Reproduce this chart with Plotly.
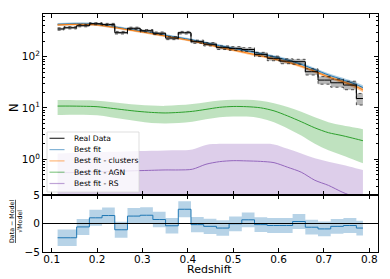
import plotly.graph_objects as go

# ---------------- data ----------------
z_bins = [0.113, 0.141, 0.169, 0.197, 0.225, 0.253, 0.281, 0.309, 0.337, 0.365,
          0.393, 0.421, 0.449, 0.477, 0.505, 0.533, 0.561, 0.589, 0.617, 0.645,
          0.673, 0.701, 0.729, 0.757, 0.786]
n_data = [347, 367, 402, 440, 425, 294, 357, 321, 286, 230,
          294, 196, 175, 150, 145, 138, 111, 93, 82, 80,
          51, 35, 31, 28, 15.3]
n_err = [18.6, 19.2, 20.0, 21.0, 20.6, 17.1, 18.9, 17.9, 16.9, 15.2,
         17.1, 14.0, 13.2, 12.2, 12.0, 11.7, 10.5, 9.6, 9.1, 8.9,
         7.1, 5.9, 5.6, 5.3, 3.9]
resid = [-2.5, -2.5, -0.6, 1.0, 1.4, -1.1, 1.3, 1.45, 0.7, -0.4,
         2.5, -0.2, -0.5, -0.8, -0.05, 0.65, -0.2, -0.35, -0.35, 0.35,
         -0.65, -0.95, -0.5, -0.35, -0.8]
resid_err = [1.45, 1.45, 1.4, 1.4, 1.4, 1.4, 1.4, 1.4, 1.35, 1.35,
             1.4, 1.35, 1.35, 1.35, 1.3, 1.3, 1.3, 1.3, 1.3, 1.3,
             1.3, 1.3, 1.3, 1.3, 1.3]

z_model = [0.113, 0.14, 0.17, 0.20, 0.23, 0.26, 0.29, 0.32, 0.35, 0.38,
           0.41, 0.44, 0.47, 0.50, 0.53, 0.56, 0.59, 0.62, 0.65, 0.68,
           0.71, 0.74, 0.77, 0.786]
fit_total = [428, 436, 440, 428, 392, 355, 322, 292, 262, 236,
             212, 186, 164, 146, 130, 115, 100, 86, 71, 56,
             44, 36, 29, 25]
fit_total_relerr = [0.06, 0.06, 0.06, 0.06, 0.06, 0.06, 0.06, 0.06, 0.06, 0.06,
                    0.06, 0.06, 0.06, 0.06, 0.065, 0.065, 0.07, 0.07, 0.075, 0.08,
                    0.085, 0.09, 0.1, 0.11]
fit_clusters = [416.5, 424.5, 428.6, 416.8, 381.5, 345.2, 312.8, 283.2, 253.4, 227.2,
                202.8, 175.8, 152.8, 134.4, 118.5, 104.0, 90.3, 78.3, 65.0, 51.5,
                40.4, 32.9, 26.3, 22.5]
fit_clusters_relerr = [0.05, 0.05, 0.05, 0.05, 0.05, 0.05, 0.05, 0.05, 0.05, 0.05,
                       0.05, 0.05, 0.05, 0.05, 0.055, 0.055, 0.06, 0.06, 0.065, 0.07,
                       0.075, 0.08, 0.09, 0.1]
fit_agn = [10.9, 10.9, 10.8, 10.6, 9.9, 9.2, 8.6, 8.2, 8.0, 8.2,
           8.6, 9.4, 10.3, 10.7, 10.6, 10.1, 8.8, 7.0, 5.4, 4.1,
           3.3, 2.9, 2.5, 2.3]
fit_agn_hi = [14.3, 14.3, 14.1, 13.9, 13.1, 12.3, 11.6, 11.2, 11.0, 11.4,
              12.0, 13.0, 14.0, 14.5, 14.4, 13.9, 12.4, 10.4, 8.4, 6.6,
              5.3, 4.6, 4.1, 3.85]
fit_agn_lo = [7.3, 7.4, 7.4, 7.2, 6.6, 6.0, 5.5, 5.1, 5.0, 5.1,
              5.4, 6.0, 6.6, 6.8, 6.8, 6.3, 5.3, 4.0, 2.9, 2.0,
              1.5, 1.2, 0.95, 0.84]
fit_rs = [0.55, 0.55, 0.56, 0.57, 0.58, 0.59, 0.60, 0.61, 0.62, 0.62,
          0.64, 0.80, 0.90, 0.94, 0.93, 0.91, 0.86, 0.70, 0.56, 0.39,
          0.31, 0.23, 0.18, 0.16]
fit_rs_hi = [1.30, 1.32, 1.35, 1.38, 1.40, 1.42, 1.45, 1.47, 1.49, 1.50,
             1.55, 1.90, 2.0, 2.0, 2.0, 2.0, 1.95, 1.6, 1.3, 1.05,
             0.9, 0.78, 0.67, 0.62]
fit_rs_lo = [0.03] * len(z_model)

x_ticks = [0.1, 0.2, 0.3, 0.4, 0.5, 0.6, 0.7, 0.8]
x_ticktext = ["0.1", "0.2", "0.3", "0.4", "0.5", "0.6", "0.7", "0.8"]
legend_names = ["Real Data", "Best fit", "Best fit - clusters", "Best fit - AGN", "Best fit - RS"]

# ---------------- styling ----------------
BLUE, ORANGE, GREEN, PURPLE = "#1f77b4", "#ff7f0e", "#2ca02c", "#9467bd"
FONT = "DejaVu Sans"
OFF = 8  # default page margin of the html body
W, H = 390 - 2 * OFF, 279 - OFF
ML, MT = 43 - OFF, 14 - OFF
MR = W - (378 - OFF)
MB = H - (252 - OFF)


def pxx(px):
    return (px - OFF - ML) / (W - ML - MR)


def pxy(py):
    return (H - MB - (py - OFF)) / (H - MT - MB)


fig = go.Figure()


def band(x, lo, hi, color, shape, yaxis="y", xaxis="x", line=None):
    fig.add_trace(go.Scatter(x=x, y=lo, mode="lines", line=line or dict(width=0, shape=shape),
                             xaxis=xaxis, yaxis=yaxis, showlegend=False, hoverinfo="skip"))
    fig.add_trace(go.Scatter(x=x, y=hi, mode="lines", line=line or dict(width=0, shape=shape),
                             fill="tonexty", fillcolor=color,
                             xaxis=xaxis, yaxis=yaxis, showlegend=False, hoverinfo="skip"))


tot_lo = [v * (1 - e) for v, e in zip(fit_total, fit_total_relerr)]
tot_hi = [v * (1 + e) for v, e in zip(fit_total, fit_total_relerr)]
cl_lo = [v * (1 - e) for v, e in zip(fit_clusters, fit_clusters_relerr)]
cl_hi = [v * (1 + e) for v, e in zip(fit_clusters, fit_clusters_relerr)]

# bands
band(z_model, fit_rs_lo, fit_rs_hi, "rgba(148,103,189,0.32)", "spline")
band(z_model, fit_agn_lo, fit_agn_hi, "rgba(44,160,44,0.30)", "spline")
band(z_model, tot_lo, tot_hi, "rgba(31,119,180,0.35)", "spline")
band(z_model, cl_lo, cl_hi, "rgba(255,127,14,0.45)", "spline")

# model lines
for ys, col in [(fit_total, BLUE), (fit_clusters, ORANGE), (fit_agn, GREEN), (fit_rs, PURPLE)]:
    fig.add_trace(go.Scatter(x=z_model, y=ys, mode="lines",
                             line=dict(color=col, width=1, shape="spline", smoothing=0.8),
                             showlegend=False, hoverinfo="skip"))

# data band + step line
d_lo = [n - e for n, e in zip(n_data, n_err)]
d_hi = [n + e for n, e in zip(n_data, n_err)]
band(z_bins, d_lo, d_hi, "rgba(0,0,0,0.28)", "hvh",
     line=dict(color="rgba(0,0,0,0.8)", width=0.8, dash="dot", shape="hvh"))
fig.add_trace(go.Scatter(x=z_bins, y=n_data, mode="lines",
                         line=dict(color="black", width=1, shape="hvh"),
                         showlegend=False, hoverinfo="skip"))

# residual panel
r_lo = [r - e for r, e in zip(resid, resid_err)]
r_hi = [r + e for r, e in zip(resid, resid_err)]
band(z_bins, r_lo, r_hi, "rgba(31,119,180,0.32)", "hvh", yaxis="y2", xaxis="x2")
fig.add_trace(go.Scatter(x=z_bins, y=resid, mode="lines", xaxis="x2", yaxis="y2",
                         line=dict(color=BLUE, width=1, shape="hvh"),
                         showlegend=False, hoverinfo="skip"))

split = (252 - 195) / (H - MT - MB)
axis_common = dict(showline=True, linecolor="black", linewidth=1, mirror="allticks",
                   ticks="inside", ticklen=4, tickwidth=1, tickcolor="black",
                   showgrid=False, zeroline=False, automargin=False,
                   tickfont=dict(family=FONT, size=10.5, color="black"))
minor_vals = [m * 10 ** e for e in (-1, 0, 1, 2) for m in range(2, 10) if 0.2 <= m * 10 ** e <= 680]

fig.update_layout(
    template="none",
    width=W, height=H, margin=dict(l=ML, r=MR, t=MT, b=MB, autoexpand=False),
    paper_bgcolor="white", plot_bgcolor="white", showlegend=False,
    font=dict(family=FONT, color="black"),
    xaxis=dict(domain=[0, 1], anchor="y", range=[0.0808, 0.8192], tickvals=x_ticks,
               showticklabels=False, **axis_common),
    yaxis=dict(domain=[split, 1], anchor="x", type="log", range=[-0.696, 2.832],
               tickvals=[1, 10, 100],
               ticktext=["10<sup>0</sup>", "10<sup>1</sup>", "10<sup>2</sup>"],
               minor=dict(tickvals=minor_vals, ticks="inside", ticklen=2, tickcolor="black", showgrid=False),
               **axis_common),
    xaxis2=dict(domain=[0, 1], anchor="y2", matches="x", range=[0.0808, 0.8192],
                tickvals=x_ticks, ticktext=x_ticktext, ticklabelstandoff=-3, **axis_common),
    yaxis2=dict(domain=[0, split], anchor="x2", range=[-5, 5], tickvals=[-5, 0, 5],
                ticktext=["\u22125", "0", "5"], **axis_common),
)

shapes = [dict(type="line", xref="x2 domain", yref="y2", x0=0, x1=1, y0=0, y1=0,
               line=dict(color="black", width=1), layer="above")]
# legend box
shapes.append(dict(type="rect", xref="paper", yref="paper",
                   x0=pxx(47), x1=pxx(139), y0=pxy(192), y1=pxy(132),
                   fillcolor="rgba(255,255,255,0.8)", line=dict(color="rgb(215,215,215)", width=0.8),
                   layer="above"))
leg_cols = ["rgba(0,0,0,0.8)", "rgba(31,119,180,0.55)", "rgba(255,127,14,0.55)",
            "rgba(44,160,44,0.55)", "rgba(148,103,189,0.6)"]
leg_y = [138.3, 149.6, 160.9, 172.2, 183.5]
annotations = []
for name, col, yy in zip(legend_names, leg_cols, leg_y):
    shapes.append(dict(type="line", xref="paper", yref="paper", x0=pxx(49.5), x1=pxx(64.5),
                       y0=pxy(yy), y1=pxy(yy), line=dict(color=col, width=1.2), layer="above"))
    annotations.append(dict(xref="paper", yref="paper", x=pxx(71.5), y=pxy(yy), text=name,
                            showarrow=False, xanchor="left", yanchor="middle",
                            font=dict(family=FONT, size=7.6, color="black")))

annotations += [
    dict(xref="paper", yref="paper", x=pxx(14), y=pxy(107), text="N", textangle=-90,
         showarrow=False, xanchor="center", yanchor="middle",
         font=dict(family=FONT, size=11.5, color="black")),
    dict(xref="paper", yref="paper", x=pxx(15), y=pxy(222),
         text="<u>Data \u2212 Model</u><br>\u221aModel", textangle=-90,
         showarrow=False, xanchor="center", yanchor="middle",
         font=dict(family=FONT, size=6.3, color="black")),
    dict(xref="paper", yref="paper", x=pxx(209), y=pxy(269.5), text="Redshift",
         showarrow=False, xanchor="center", yanchor="middle",
         font=dict(family=FONT, size=11, color="black")),
]
fig.update_layout(shapes=shapes, annotations=annotations)

fig.write_html("out.html")
